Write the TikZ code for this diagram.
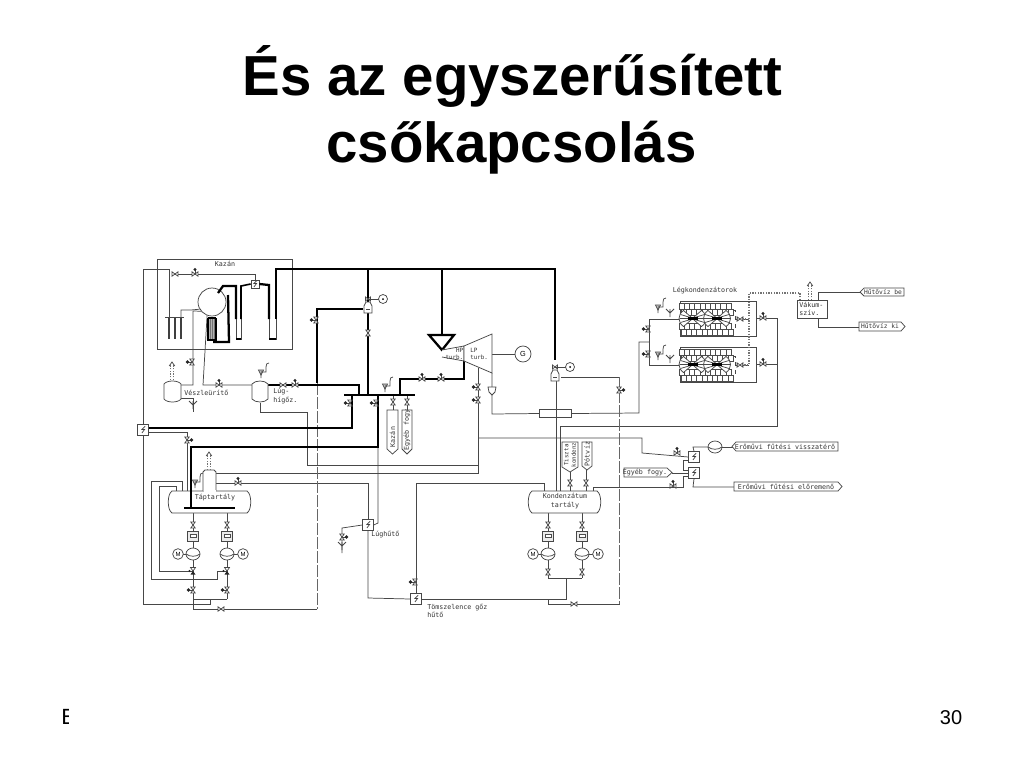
\documentclass[tikz,border=0pt]{standalone}
\usepackage{fontspec}
\setmainfont{Liberation Sans}
\setmonofont{DejaVu Sans Mono}
\newcommand\cad{\fontsize{5}{6.2}\selectfont\ttfamily}
\tikzset{
  thinl/.style={line width=0.55pt,draw=black!72},
  thickl/.style={line width=1.7pt,draw=black,line join=miter},
  dashl/.style={line width=0.55pt,draw=black!60,dash pattern=on 9pt off 1.5pt},
  dotl/.style={line width=1pt,draw=black!55,dash pattern=on 1pt off 1pt},
  lbl/.style={font=\cad,inner sep=0pt,align=center,text=black!80},
  hxbox/.style={draw=black!72,line width=0.55pt,fill=white,minimum size=8pt,inner sep=0pt,
    path picture={\draw[black!75,line width=0.5pt]
      ([shift={(1.6pt,2.8pt)}]path picture bounding box.center)--++(-2.4pt,-2.4pt)--++(2pt,0)--++(-2pt,-2.6pt);}},
  tagbox/.style={draw=black!72,line width=0.55pt,fill=white,font=\cad,inner sep=0pt},
  circ/.style={circle,draw=black!72,line width=0.55pt,fill=white,inner sep=0pt},
  pumpbox/.style={draw=black!72,line width=0.55pt,fill=black!8,minimum width=8pt,minimum height=7.5pt,inner sep=0pt,
    path picture={\draw[black!70,line width=.45pt,fill=white] ([shift={(-2.2pt,-1pt)}]path picture bounding box.center) rectangle ++(4.4pt,2pt);}},
  valvh/.pic={\draw[thinl,fill=white] (-3,-2.2)--(3,2.2)--(3,-2.2)--(-3,2.2)--cycle;},
  valvv/.pic={\draw[thinl,fill=white] (-2.2,-3)--(2.2,3)--(-2.2,3)--(2.2,-3)--cycle;},
  valvb/.pic={\draw[thinl,fill=white] (-2.5,-3.5)--(2.5,-3.5)--(0,0)--cycle;
     \fill[black!85] (-2.5,3.5)--(2.5,3.5)--(0,0)--cycle;\fill[black!85] (-3.5,0) circle (1.2);},
  valvhu/.pic={\draw[thinl,fill=white] (-3,-2.2)--(3,2.2)--(3,-2.2)--(-3,2.2)--cycle;
     \draw[thinl](0,0)--(0,-4);\fill[black!85] (0,-4.5) circle (1.6);},
  valvvl/.pic={\draw[thinl,fill=white] (-2.2,-3)--(2.2,3)--(-2.2,3)--(2.2,-3)--cycle;
     \draw[thinl](0,0)--(-4,0);\fill[black!85] (-4.5,0) circle (1.8);},
  valvvr/.pic={\draw[thinl,fill=white] (-2.2,-3)--(2.2,3)--(-2.2,3)--(2.2,-3)--cycle;
     \draw[thinl](0,0)--(4,0);\fill[black!85] (4.5,0) circle (1.8);},
  relief/.pic={\draw[thinl,fill=white] (-2.5,-3)--(2.5,-3)--(0,2)--cycle;
     \draw[thinl](0,-3)--(0,5) (0,-1)--(5,-1)--(5,-6) .. controls (5,-9) and (6,-10) .. (8,-10);},
  funnel/.pic={\draw[thinl](-4,-4)--(0,0)--(4,-4) (0,-4)--(0,4);},
  ventup/.pic={\draw[dotl] (-1.2,0)--(-1.2,-15) (1.2,0)--(1.2,-15);
     \draw[thinl] (-2.8,-14)--(0,-18)--(2.8,-14);},
  ctrlv/.pic={\draw[thinl,fill=white] (-4,-3)--(-4,4)--(4,4)--(4,-3)--(2,-7)--(-2,-7)--cycle;
     \draw[thinl] (-2,0.5)--(2,0.5);
     \draw[thinl,fill=white] (-2.5,-12)--(2.5,-8)--(2.5,-12)--(-2.5,-8)--cycle;
     \draw[thinl] (0,-10)--(11,-10);
     \draw[thinl,fill=white] (15,-10) circle (4.5);\fill[black] (15,-10) circle (1);},
  pumpu/.pic={\draw[thinl,fill=white] (0,0) ellipse (7 and 6);
     \draw[thinl] (-7,0) .. controls (-3,3) and (3,3) .. (7,0);},
  fan/.pic={
     \draw[thinl,fill=white] (-1.5,-1.5)--(-9,-8) .. controls (-15,-4) and (-15,4) .. (-9,8)--(-1.5,1.5)--cycle;
     \draw[thinl,fill=white] (1.5,-1.5)--(9,-8) .. controls (15,-4) and (15,4) .. (9,8)--(1.5,1.5)--cycle;
     \draw[thinl] (-1.5,0)--(-13,0) (1.5,0)--(13,0) (-2,-1)--(-12,-4) (-2,1)--(-12,4) (2,-1)--(12,-4) (2,1)--(12,4);
     \draw[line width=1.6pt] (-5,0)--(5,0);},
  gridrow/.pic={\foreach \i in {0,...,9} {
       \draw[line width=.45pt,draw=black!70,fill=white] (\i*5.2,0) rectangle ++(5.2,6);
       \draw[line width=.45pt,draw=black!70,fill=white] (\i*5.2+2,6) rectangle ++(5.2,6);}},
  cond/.pic={\draw[thinl] (0,0) rectangle (76,35);
     \pic at (-1,2) {gridrow};\pic at (-1,22) {gridrow};
     \pic at (12.5,17.5) {fan};\pic at (37,17.5) {fan};
     \draw[thinl,dashed] (53,9)--(55,9)--(55,29)--(53,29);
     \draw[thinl] (55,18)--(69,18);
     \pic at (60,18) {valvh};},
}
\newcommand\hztank[5]{%
 \draw[thinl,fill=white] (#2+5,#4)--(#3-5,#4) .. controls (#3,#4+3) and (#3,#5-3) .. (#3-5,#5)--(#2+5,#5) .. controls (#2,#5-3) and (#2,#4+3) .. (#2+5,#4)--cycle;
 \node[inner sep=0pt,minimum size=0pt] (#1) at ({(#2+#3)/2},{(#4+#5)/2}) {};}
\newcommand\vttank[5]{%
 \draw[thinl,fill=white] (#2,#4+4) .. controls (#2+3,#4) and (#3-3,#4) .. (#3,#4+4)--(#3,#5-4) .. controls (#3-3,#5) and (#2+3,#5) .. (#2,#5-4)--cycle;
 \node[inner sep=0pt,minimum size=0pt] (#1) at ({(#2+#3)/2},{(#4+#5)/2}) {};}
\begin{document}
\begin{tikzpicture}[x=0.75pt,y=-0.75pt]
\useasboundingbox (0,0) rectangle (1024,768);
\fill[white] (0,0) rectangle (1024,768);
% titles
\node[font=\fontsize{42.3}{50}\selectfont\bfseries,inner sep=0pt,anchor=base] (t1) at (512.5,95) {És az egyszerűsített};
\node[font=\fontsize{42.3}{50}\selectfont\bfseries,inner sep=0pt,anchor=base] (t2) at (511.5,162) {csőkapcsolás};
\node[font=\fontsize{15}{18}\selectfont,inner sep=0pt,anchor=base] (pg) at (951,724) {30};
\begin{scope}
\clip (50,700) rectangle (68,730);
\node[font=\fontsize{16.5}{18}\selectfont,inner sep=0pt,anchor=base west] (ef) at (61.2,724) {E};
\end{scope}

% equipment anchors
\coordinate (cvA) at (368,309);
\coordinate (cvB) at (555,377);
\node[circ,minimum size=21pt] (drum) at (212,302) {};
\node[hxbox,minimum size=6pt] (shx) at (255,284) {};
\node[hxbox] (hxA) at (143,430) {};
\node[hxbox] (hxB) at (368,525) {};
\node[hxbox] (hxC) at (416,599) {};
\node[hxbox] (hxD) at (694,457) {};
\node[hxbox] (hxE) at (694,473) {};
\node[circ,minimum size=12pt] (gen) at (523,354) {\fontsize{5.5}{6}\selectfont G};
\node[draw=black!72,fill=white,line width=.55pt,inner sep=0pt,minimum width=24.5pt,minimum height=6.5pt] (lt) at (555.5,413.5) {};
\node[draw=black!72,fill=white,line width=.55pt,inner sep=0pt,minimum width=22.5pt,minimum height=13.5pt] (vac) at (812,309) {};

% ---- thin piping
\draw[thinl] (157,259) rectangle (292,349);
\draw[thinl] (169,317)--(169,269)--(143,269)--(hxA.north);
\draw[thinl] (hxA.south)--(143,604)--(210,604)--(210,599);
\draw[thinl] (193,599)--(227,599);
\draw[thinl] (172,274)--(255,274)--(shx.north);
\draw[thinl] (181,317)--(181,310)--(191,310)--(drum.210);
\draw[thinl] (drum.220)--(193,311)--(193,385)--(181,385);
\draw[thinl] (drum.250)--(203,385)--(252,385);
\draw[thinl] (181,398)--(193,398)--(193,412);
\draw[thinl] (165,317)--(184,317);
\draw[thinl] (236,319)--(236,339)--(241,339)--(241,319);
\draw[thinl] (269,319)--(269,339)--(276,339)--(276,319);
\draw[thinl] (260,403)--(260,412)--(307,412)--(307,465)--(478,465);
\draw[thinl] (378,447)--(378,523)--(hxB.east);
\draw[thinl] (hxB.west)--(342,528)--(342,553);
\draw[thinl] (hxB.south)--(368,598)--(hxC.west);
\draw[thinl] (216,483)--(368,483)--(hxB.north);
\draw[thinl] (216,473)--(478,473);
\draw[thinl] (hxC.north)--(416,483)--(544,483)--(544,491);
\draw[thinl] (hxC.east)--(566,599)--(566,578);
\draw[thinl] (548,578)--(582,578);
\draw[thinl] (442,350)--(442,357);
\draw[thinl] (478,368)--(478,474);
\draw[thinl] (492,373)--(492,414)--(lt.west);
\draw[thinl] (478,438)--(642,438)--(642,453)--(hxD.west);
\draw[thinl] (lt.east)--(639,413)--(639,342)--(649,342);
\draw[thinl] (680,319)--(649,319)--(649,365)--(680,365);
\draw[thinl] (756,318)--(777,318)--(777,426)--(560,426)--(560,491);
\draw[thinl] (756,364)--(777,364);
\draw[thinl] (556,381)--(556,491);
\draw[thinl] (561,377)--(619,377);
\draw[dashl] (619,377)--(619,604);
\draw[thinl] (548,599)--(548,604)--(620,604);
\draw[dashl] (317,383)--(317,609);
\draw[thinl] (317,609)--(193,609)--(193,599);
% tanks' pump columns
\foreach \x in {193,227,548,582} {\draw[thinl] (\x,513)--(\x,\ifnum\x<300 599\else 578\fi);}
\draw[thinl] (182,491)--(182,481)--(151,481)--(151,579)--(217,579)--(217,571)--(227,571);
\draw[thinl] (176,491)--(176,486)--(159,486)--(159,571)--(193,571);
\draw[thinl] (hxA.east|-0,432)--(187,432)--(187,491);
\draw[thinl] (570,472)--(570,491) (586,470)--(586,491);
\draw[thinl] (hxD.north)--(693,447)--(708,447);
\draw[thinl] (722,447)--(733,447);
\draw[thinl] (688,460)--(683,460)--(683,470)--(688,470);
\draw[thinl] (672,473)--(hxE.west);
\draw[thinl] (688,476)--(683,476)--(683,487)--(593,487)--(593,491);
\draw[thinl] (hxE.south)--(693,487)--(734,487);
\draw[thinl] (818,300)--(818,292)--(860,292);
\draw[thinl] (818,318)--(818,327)--(859,327);
\draw[thinl] (393,395)--(393,410) (407,395)--(407,410);
\draw[thinl] (492,354)--(gen.west);

% ---- thick piping
\draw[thickl] (218,293)--(223,286)--(236,286)--(236,319);
\draw[thickl] (228,295)--(229,342)--(213,342);
\draw[line width=1.2pt] (241,319)--(241,286)--(shx.west);
\draw[thickl] (shx.east)--(269,285)--(269,319);
\draw[thickl] (276,319)--(276,269)--(555,269)--(555,360);
\draw[thickl] (268,385)--(359,385)--(359,395);
\draw[thickl] (344,395)--(415,395);
\draw[thickl] (368,269)--(368,395);
\draw[thickl] (363,309)--(317,309)--(317,383);
\draw[thickl] (442,269)--(442,335);
\draw[thickl] (400,395)--(400,379)--(464,379)--(464,361);
\draw[thickl] (352,395)--(352,428)--(hxA.east|-0,428);
\draw[thickl] (378,395)--(378,447)--(191,447)--(191,508);
\draw[thickl] (184,508)--(235,508);
\draw[thickl,fill=white] (429,335)--(454,335)--(442,350)--cycle;

% turbines
\draw[thinl,fill=white] (442,350)--(464,346)--(464,361)--(442,357);
\draw[thinl,fill=white] (464,346)--(492,334)--(492,373)--(464,361)--cycle;
\node[lbl,font=\fontsize{4.4}{5.4}\selectfont\ttfamily,align=right,anchor=east] (hpt) at (463.5,354) {HP\\turb.};
\node[lbl,font=\fontsize{4.4}{5.4}\selectfont\ttfamily,align=left,anchor=west] (lpt) at (470,354) {LP\\turb.};

% tanks
\hztank{tapt}{167}{252}{491}{513}
\draw[thinl,fill=white] (203,491)--(203,472)--(205,470)--(214,470)--(216,472)--(216,491);
\draw[white,line width=1pt] (203.5,491)--(215.5,491);
\draw[thickl] (191,447)--(191,508);
\draw[thickl] (184,508)--(235,508);
\node[lbl] (taptl) at (215,498) {Táptartály};
\hztank{kond}{527}{602}{491}{513}
\node[lbl] (kondl) at (565,501) {Kondenzátum\\tartály};
\vttank{vesz}{164}{181}{380}{403}
\vttank{lug}{252}{268}{380}{403}
\node[lbl,anchor=west] (veszl) at (184,393) {Vészleürítő};
\node[lbl,anchor=west,align=left] (lugl) at (273,396) {Lúg-\\hígőz.};
\node[lbl] (kazl) at (225,264) {Kazán};
\node[lbl,anchor=west] (lughl) at (371,535) {Lúghűtő};
\node[lbl,anchor=west,align=left] (toml) at (427,611) {Tömszelence gőz\\hűtő};
\node[lbl] (legl) at (705,291) {Légkondenzátorok};

% evaporator and superheater details
\fill[black!30] (209,318) rectangle (215,340);
\foreach \x in {210,212,214} {\draw[line width=.5pt,black!55] (\x,318)--(\x,340);}
\draw[line width=.9pt] (208,318)--(208,340)--(216,340)--(216,318) (208,318)--(216,318);
\foreach \x in {169,175,181} {\draw[line width=1.1pt,black!75] (\x,318)--(\x,339);}
\draw[line width=1.1pt] (236,339)--(241,339) (269,339)--(276,339);

% pumps
\foreach \x/\b in {193/a,227/b,548/c,582/d} {
  \pic at (\x,525) {valvv};
  \node[pumpbox] (pb\b) at (\x,536) {};
}
\foreach \x/\m/\b in {193/178/a,227/243/b,548/533/c,582/598/d} {
  \draw[thinl] (\x,554)--(\m,554);
  \pic at (\x,554) {pumpu};
  \node[circ,minimum size=8pt,font=\fontsize{4.5}{5}\selectfont] (mot\b) at (\m,554) {M};
}
\pic at (193,571) {valvb};\pic at (227,571) {valvb};
\pic at (193,590) {valvvl};\pic at (227,590) {valvvl};
\pic at (548,572) {valvv};\pic at (582,572) {valvv};

% valves
\pic at (175,274) {valvh};
\pic at (195,274) {valvhu};
\pic at (192,362) {valvvl};
\pic at (219,385) {valvhu};
\pic at (283,385) {valvh};
\pic at (295,385) {valvhu};
\pic at (316,320) {valvvl};
\pic at (368,333) {valvv};
\pic at (350,403) {valvvl};
\pic at (376,403) {valvvl};
\pic at (393,402) {valvv};
\pic at (407,402) {valvv};
\pic at (422,379) {valvhu};
\pic at (441,379) {valvhu};
\pic at (478,387) {valvvl};
\pic at (478,400) {valvvl};
\pic at (238,483) {valvhu};
\pic at (187,440) {valvvr};
\pic at (342,537) {valvvr};
\pic at (415,582) {valvvl};
\pic at (221,609) {valvh};
\pic at (574,604) {valvh};
\pic at (619,390) {valvvr};
\pic at (648,329) {valvvl};
\pic at (648,354) {valvvl};
\pic at (763,318) {valvhu};
\pic at (763,364) {valvhu};
\pic at (677,453) {valvhu};
\pic at (673,486) {valvhu};
\pic at (570,483) {valvv};
\pic at (586,483) {valvv};
\pic at (cvA) {ctrlv};
\pic at (cvB) {ctrlv};
\draw[thinl,fill=white] (488,387)--(496,387)--(495,392)--(492,395)--(489,392)--cycle;

% circulating pump
\pic at (715,447) {pumpu};

% relief, funnels, vents
\pic at (261,373) {relief};
\pic at (385,387) {relief};
\pic at (195,483) {relief};
\pic at (658,308) {relief};
\pic at (658,355) {relief};
\pic at (670,313) {funnel};
\pic at (670,359) {funnel};
\pic at (193,405) {funnel};
\pic at (342,546) {funnel};
\pic at (172,380) {ventup};
\pic at (209,470) {ventup};

% condensers
\pic at (680,301) {cond};
\pic at (680,347) {cond};
\draw[dotl] (800,300)--(800,293)--(749,293)--(749,365)--(737,365);
\draw[dotl] (749,319)--(737,319);
\pic at (810,300) {ventup};
\draw[thinl,fill=white] (797,300) rectangle (827,318);
\node[lbl,anchor=west,align=left] (vacl) at (799,309) {Vákum-\\szív.};

% tags
\draw[tagbox] (732,446.5)--(736,442)--(838,442)--(838,451)--(736,451)--cycle;
\node[lbl] (t1a) at (785,446.5) {Erőművi fűtési visszatérő};
\draw[tagbox] (734,482)--(838,482)--(842,486.5)--(838,491)--(734,491)--cycle;
\node[lbl] (t1b) at (786,486.5) {Erőművi fűtési előremenő};
\draw[tagbox] (624,468)--(667,468)--(672,472.5)--(667,477)--(624,477)--cycle;
\node[lbl] (t1c) at (645,472.5) {Egyéb fogy.};
\draw[tagbox] (860,292)--(864,288)--(904,288)--(904,296)--(864,296)--cycle;
\node[lbl,font=\fontsize{4.7}{6}\selectfont\ttfamily] (t1d) at (883,292) {Hűtővíz be};
\draw[tagbox] (859,322)--(901,322)--(905,326.5)--(901,331)--(859,331)--cycle;
\node[lbl,font=\fontsize{4.7}{6}\selectfont\ttfamily] (t1e) at (880,326.5) {Hűtővíz ki};
\draw[tagbox] (387,410)--(398,410)--(398,449)--(392.5,454)--(387,449)--cycle;
\node[lbl,rotate=90] (t1f) at (392.5,437) {Kazán};
\draw[tagbox] (402,410)--(412,410)--(412,449)--(407,454)--(402,449)--cycle;
\node[lbl,rotate=90] (t1g) at (407,430) {Egyéb fogy};
\draw[tagbox] (562,442)--(578,442)--(578,467)--(570,472)--(562,467)--cycle;
\node[lbl,rotate=90,font=\fontsize{4.4}{5.6}\selectfont\ttfamily] (t1h) at (570,455) {Tiszta\\kondenz};
\draw[tagbox] (582,442)--(592,442)--(592,466)--(587,470)--(582,466)--cycle;
\node[lbl,rotate=90] (t1i) at (587,454) {Pótvíz};
\end{tikzpicture}
\end{document}
